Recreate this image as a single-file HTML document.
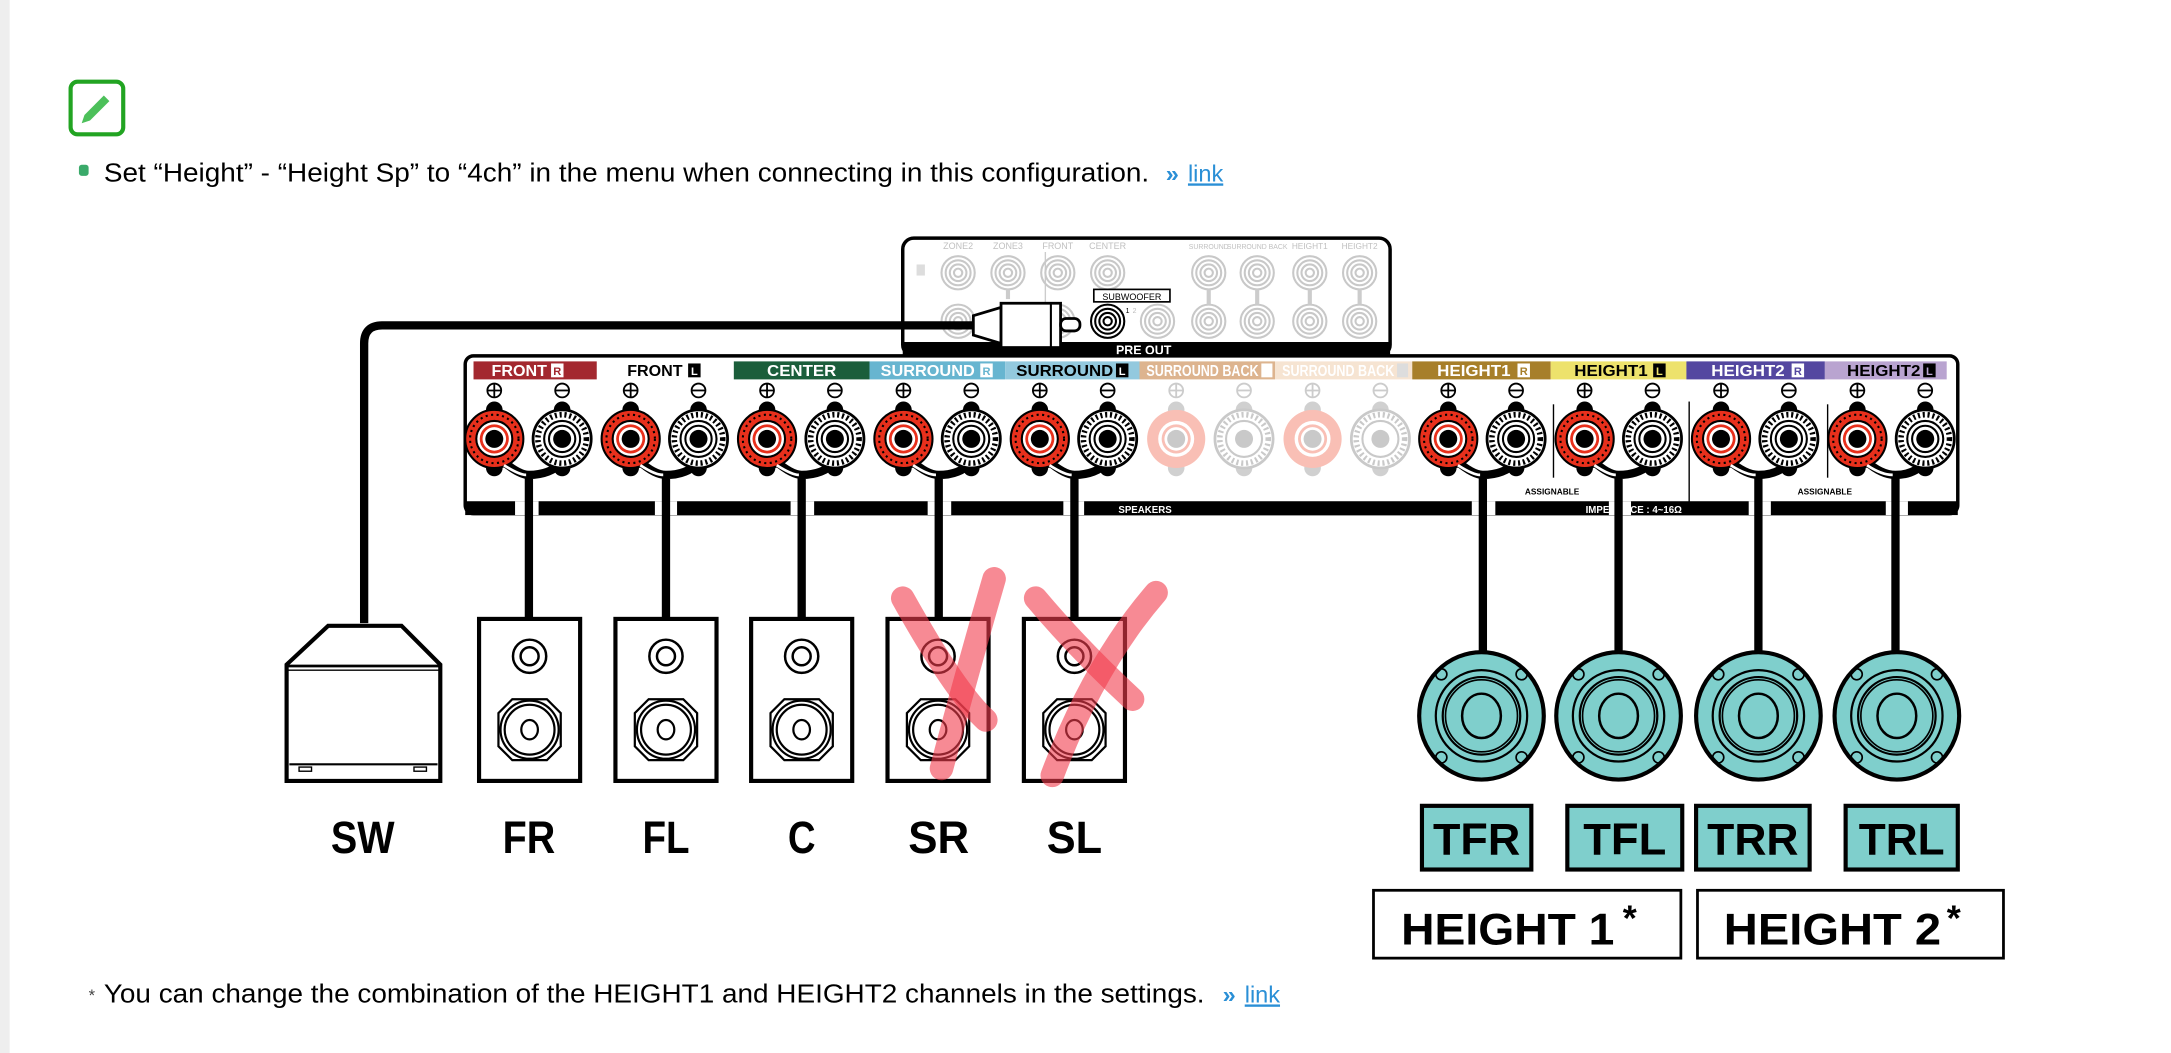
<!DOCTYPE html>
<html><head><meta charset="utf-8"><style>
html,body{margin:0;padding:0;background:#fff;width:2171px;height:1053px;overflow:hidden}
svg{display:block}
</style></head><body>
<svg width="2171" height="1053" viewBox="0 0 1568 760.5" xmlns="http://www.w3.org/2000/svg" font-family="Liberation Sans, sans-serif">
<defs>
<g id="tp">
 <ellipse cx="0" cy="-21" rx="6" ry="6" fill="#000"/>
 <ellipse cx="0" cy="21" rx="6" ry="6" fill="#000"/>
 <circle r="21" fill="#e8301c" stroke="#000" stroke-width="1.5"/>
 <circle r="17.5" fill="none" stroke="#000" stroke-width="1.5" stroke-dasharray="1.5 2.5"/>
 <circle r="13" fill="#fff" stroke="#000" stroke-width="1.5"/>
 <circle r="10.5" fill="#e8301c"/>
 <circle r="8.5" fill="#fff"/>
 <circle r="6.5" fill="#000"/>
</g>
<g id="tm">
 <ellipse cx="0" cy="-21" rx="6" ry="6" fill="#000"/>
 <ellipse cx="0" cy="21" rx="6" ry="6" fill="#000"/>
 <circle r="21" fill="#fff" stroke="#000" stroke-width="2"/>
 <circle r="17.5" fill="none" stroke="#000" stroke-width="4" stroke-dasharray="1.5 2"/>
 <circle r="13" fill="#fff" stroke="#000" stroke-width="1.5"/>
 <circle r="9.5" fill="#fff" stroke="#000" stroke-width="1.5"/>
 <circle r="6.5" fill="#000"/>
</g>
<g id="tpf" opacity="0.45">
 <ellipse cx="0" cy="-21" rx="6" ry="6" fill="#999"/>
 <ellipse cx="0" cy="21" rx="6" ry="6" fill="#999"/>
 <circle r="21" fill="#f2735c"/>
 <circle r="13" fill="#fff"/>
 <circle r="10.5" fill="#f2735c"/>
 <circle r="8.5" fill="#fff"/>
 <circle r="6.5" fill="#888"/>
</g>
<g id="tmf" opacity="0.45">
 <ellipse cx="0" cy="-21" rx="6" ry="6" fill="#999"/>
 <ellipse cx="0" cy="21" rx="6" ry="6" fill="#999"/>
 <circle r="21" fill="#fff" stroke="#888" stroke-width="2"/>
 <circle r="17.5" fill="none" stroke="#888" stroke-width="4" stroke-dasharray="1.5 2"/>
 <circle r="13" fill="#fff" stroke="#888" stroke-width="1.5"/>
 <circle r="6.5" fill="#888"/>
</g>
<g id="jk" fill="none" stroke="#c8c8c8" stroke-width="1.5">
 <circle r="12"/><circle r="9"/><circle r="6"/><circle r="3"/>
</g>
<g id="spk">
 <rect x="0" y="0" width="73" height="117" fill="#fff" stroke="#000" stroke-width="3"/>
 <circle cx="36.5" cy="27" r="12" fill="none" stroke="#000" stroke-width="1.8"/>
 <circle cx="36.5" cy="27" r="6.5" fill="none" stroke="#000" stroke-width="1.8"/>
 <path d="M24 58 L49 58 L59 68 L59 92 L49 102 L24 102 L14 92 L14 68 Z" fill="none" stroke="#000" stroke-width="1.6"/>
 <circle cx="36.5" cy="80" r="21" fill="none" stroke="#000" stroke-width="1.6"/>
 <circle cx="36.5" cy="80" r="18" fill="none" stroke="#000" stroke-width="1.6"/>
 <ellipse cx="36.5" cy="80" rx="6" ry="7" fill="none" stroke="#000" stroke-width="1.6"/>
</g>
<g id="hs">
 <ellipse rx="45" ry="46" fill="#7fcfcc" stroke="#000" stroke-width="3"/>
 <circle r="33" fill="none" stroke="#000" stroke-width="1.6"/>
 <circle r="28" fill="none" stroke="#000" stroke-width="1.6"/>
 <circle r="26" fill="none" stroke="#000" stroke-width="1.2"/>
 <ellipse rx="14" ry="16" fill="none" stroke="#000" stroke-width="1.8"/>
 <circle cx="-29" cy="-30" r="4" fill="none" stroke="#000" stroke-width="1.2"/>
 <circle cx="29" cy="-30" r="4" fill="none" stroke="#000" stroke-width="1.2"/>
 <circle cx="-29" cy="30" r="4" fill="none" stroke="#000" stroke-width="1.2"/>
 <circle cx="29" cy="30" r="4" fill="none" stroke="#000" stroke-width="1.2"/>
</g>
</defs>

<rect x="0" y="0" width="7" height="760.5" fill="#eeeeee"/>

<!-- pencil icon -->
<rect x="51" y="59" width="38" height="38" rx="5" fill="#fff" stroke="#22a422" stroke-width="3"/>
<path d="M59 89 L61 83 L75 69 L79 73 L65 87 Z" fill="#4cc05a"/>
<rect x="57" y="119" width="7" height="8" rx="2" fill="#3aaa6a"/>
<text x="75" y="131" font-size="19" fill="#000" textLength="755" lengthAdjust="spacingAndGlyphs">Set “Height” - “Height Sp” to “4ch” in the menu when connecting in this configuration.</text>
<text x="842" y="131" font-size="17" fill="#2a8fd6" font-weight="bold">»</text>
<text x="858" y="131" font-size="17" fill="#2a8fd6" text-decoration="underline">link</text>

<!-- preout box -->
<rect x="652" y="172" width="352" height="85" rx="8" fill="#fff" stroke="#000" stroke-width="2.5"/>
<rect x="652" y="247" width="352" height="10" fill="#000"/>
<text x="826" y="256" font-size="9" fill="#fff" font-weight="bold" text-anchor="middle">PRE OUT</text>
<g font-size="6.5" fill="#c0c0c0" text-anchor="middle">
<text x="692" y="180">ZONE2</text><text x="728" y="180">ZONE3</text><text x="764" y="180">FRONT</text><text x="800" y="180">CENTER</text>
<text x="873" y="180" font-size="5">SURROUND</text><text x="908" y="180" font-size="5">SURROUND BACK</text><text x="946" y="180" font-size="6">HEIGHT1</text><text x="982" y="180" font-size="6">HEIGHT2</text>
</g>
<rect x="662" y="191" width="6" height="8" fill="#ddd"/>
<line x1="755" y1="182" x2="755" y2="244" stroke="#ccc" stroke-width="1"/>
<use href="#jk" x="692" y="197"/><use href="#jk" x="728" y="197"/><use href="#jk" x="764" y="197"/><use href="#jk" x="800" y="197"/>
<use href="#jk" x="873" y="197"/><use href="#jk" x="908" y="197"/><use href="#jk" x="946" y="197"/><use href="#jk" x="982" y="197"/>
<use href="#jk" x="692" y="232"/><use href="#jk" x="764" y="232"/><use href="#jk" x="836" y="232"/>
<use href="#jk" x="873" y="232"/><use href="#jk" x="908" y="232"/><use href="#jk" x="946" y="232"/><use href="#jk" x="982" y="232"/>
<g stroke="#ccc" stroke-width="3"><line x1="873" y1="209" x2="873" y2="220"/><line x1="908" y1="209" x2="908" y2="220"/><line x1="946" y1="209" x2="946" y2="220"/><line x1="982" y1="209" x2="982" y2="220"/><line x1="728" y1="209" x2="728" y2="216"/></g>
<g fill="none" stroke="#000" stroke-width="1.5"><circle cx="800" cy="232" r="12"/><circle cx="800" cy="232" r="9"/><circle cx="800" cy="232" r="6"/><circle cx="800" cy="232" r="3"/></g>
<rect x="790" y="209" width="55" height="9" fill="#fff" stroke="#000" stroke-width="1.2"/>
<text x="817.5" y="216.5" font-size="6.5" text-anchor="middle" fill="#000">SUBWOOFER</text>
<text x="813" y="226" font-size="5" fill="#000">1</text><text x="818" y="226" font-size="5" fill="#bbb">2</text>

<!-- SW cable -->
<path d="M263 450 L263 248 Q263 235 276 235 L705 235" fill="none" stroke="#000" stroke-width="6"/>
<path d="M703 228 L723 222 L723 248 L703 242 Z" fill="#fff" stroke="#000" stroke-width="2"/>
<rect x="723" y="219" width="43" height="32" fill="#fff" stroke="#000" stroke-width="2"/>
<line x1="759" y1="219" x2="759" y2="251" stroke="#000" stroke-width="1.5"/>
<rect x="766" y="230" width="14" height="9" rx="4" fill="#fff" stroke="#000" stroke-width="2"/>

<!-- receiver -->
<rect x="336" y="257" width="1078" height="114" rx="6" fill="#fff" stroke="#000" stroke-width="2.5"/>
<rect x="336" y="362" width="1078" height="10" fill="#000"/>
<text x="827" y="370.5" font-size="7" fill="#fff" font-weight="bold" text-anchor="middle">SPEAKERS</text>
<text x="1180" y="370.5" font-size="7" fill="#fff" font-weight="bold" text-anchor="middle">IMPEDANCE : 4~16Ω</text>
<g fill="#fff">
<rect x="372" y="362" width="17" height="10"/><rect x="473" y="362" width="16" height="10"/><rect x="571" y="362" width="17" height="10"/>
<rect x="670" y="362" width="17" height="10"/><rect x="768" y="362" width="15" height="10"/>
<rect x="1063" y="362" width="17" height="10"/><rect x="1162" y="362" width="16" height="10"/><rect x="1263" y="362" width="16" height="10"/><rect x="1362" y="362" width="16" height="10"/>
</g>

<!-- labels -->
<g font-size="11" font-weight="bold" lengthAdjust="spacingAndGlyphs">
<rect x="342" y="261" width="89" height="13" fill="#a3282f"/><text x="355" y="271.5" fill="#fff" textLength="40" lengthAdjust="spacingAndGlyphs">FRONT</text><rect x="398" y="262.5" width="9" height="10" fill="#fff"/><text x="402.5" y="271" font-size="8" fill="#a3282f" text-anchor="middle">R</text>
<text x="453" y="271.5" fill="#000" textLength="40" lengthAdjust="spacingAndGlyphs">FRONT</text><rect x="497" y="262.5" width="9" height="10" fill="#000"/><text x="501.5" y="271" font-size="8" fill="#fff" text-anchor="middle">L</text>
<rect x="530" y="261" width="98" height="13" fill="#1b5e3b"/><text x="554" y="271.5" fill="#fff" textLength="50" lengthAdjust="spacingAndGlyphs">CENTER</text>
<rect x="628" y="261" width="98" height="13" fill="#67b5d0"/><text x="636" y="271.5" fill="#fff" textLength="68" lengthAdjust="spacingAndGlyphs">SURROUND</text><rect x="708" y="262.5" width="9" height="10" fill="#fff"/><text x="712.5" y="271" font-size="8" fill="#67b5d0" text-anchor="middle">R</text>
<rect x="726" y="261" width="97" height="13" fill="#93c9de"/><text x="734" y="271.5" fill="#000" textLength="70" lengthAdjust="spacingAndGlyphs">SURROUND</text><rect x="806" y="262.5" width="9" height="10" fill="#000"/><text x="810.5" y="271" font-size="8" fill="#fff" text-anchor="middle">L</text>
<rect x="823" y="261" width="98" height="13" fill="#ddb48f"/><text x="828" y="271.5" fill="#fff" textLength="81" lengthAdjust="spacingAndGlyphs">SURROUND BACK</text><rect x="911" y="262.5" width="8" height="10" fill="#fff"/>
<rect x="921" y="261" width="99" height="13" fill="#f6e4d2"/><text x="926" y="271.5" fill="#fff" textLength="81" lengthAdjust="spacingAndGlyphs">SURROUND BACK</text><rect x="1009" y="262.5" width="8" height="10" fill="#ddd"/>
<rect x="1020" y="261" width="100" height="13" fill="#a77f2a"/><text x="1038" y="271.5" fill="#fff" textLength="53" lengthAdjust="spacingAndGlyphs">HEIGHT1</text><rect x="1096" y="262.5" width="9" height="10" fill="#fff"/><text x="1100.5" y="271" font-size="8" fill="#a77f2a" text-anchor="middle">R</text>
<rect x="1120" y="261" width="98" height="13" fill="#ede26c"/><text x="1137" y="271.5" fill="#000" textLength="53" lengthAdjust="spacingAndGlyphs">HEIGHT1</text><rect x="1194" y="262.5" width="9" height="10" fill="#000"/><text x="1198.5" y="271" font-size="8" fill="#ede26c" text-anchor="middle">L</text>
<rect x="1218" y="261" width="100" height="13" fill="#5447a0"/><text x="1236" y="271.5" fill="#fff" textLength="53" lengthAdjust="spacingAndGlyphs">HEIGHT2</text><rect x="1294" y="262.5" width="9" height="10" fill="#fff"/><text x="1298.5" y="271" font-size="8" fill="#5447a0" text-anchor="middle">R</text>
<rect x="1318" y="261" width="88" height="13" fill="#b9a4d0"/><text x="1334" y="271.5" fill="#000" textLength="53" lengthAdjust="spacingAndGlyphs">HEIGHT2</text><rect x="1389" y="262.5" width="9" height="10" fill="#000"/><text x="1393.5" y="271" font-size="8" fill="#b9a4d0" text-anchor="middle">L</text>
</g>

<g stroke="#000" fill="none" stroke-width="1.3">
<circle cx="357" cy="282" r="5"/><path d="M352 282h10M357 277v10"/><circle cx="406" cy="282" r="5"/><path d="M401 282h10"/>
<circle cx="455.5" cy="282" r="5"/><path d="M450.5 282h10M455.5 277v10"/><circle cx="504.5" cy="282" r="5"/><path d="M499.5 282h10"/>
<circle cx="554" cy="282" r="5"/><path d="M549 282h10M554 277v10"/><circle cx="603" cy="282" r="5"/><path d="M598 282h10"/>
<circle cx="652.5" cy="282" r="5"/><path d="M647.5 282h10M652.5 277v10"/><circle cx="701.5" cy="282" r="5"/><path d="M696.5 282h10"/>
<circle cx="751" cy="282" r="5"/><path d="M746 282h10M751 277v10"/><circle cx="800" cy="282" r="5"/><path d="M795 282h10"/>
<circle cx="1046" cy="282" r="5"/><path d="M1041 282h10M1046 277v10"/><circle cx="1095" cy="282" r="5"/><path d="M1090 282h10"/>
<circle cx="1144.5" cy="282" r="5"/><path d="M1139.5 282h10M1144.5 277v10"/><circle cx="1193.5" cy="282" r="5"/><path d="M1188.5 282h10"/>
<circle cx="1243" cy="282" r="5"/><path d="M1238 282h10M1243 277v10"/><circle cx="1292" cy="282" r="5"/><path d="M1287 282h10"/>
<circle cx="1341.5" cy="282" r="5"/><path d="M1336.5 282h10M1341.5 277v10"/><circle cx="1390.5" cy="282" r="5"/><path d="M1385.5 282h10"/>
</g>
<g stroke="#ccc" fill="none" stroke-width="1.3">
<circle cx="849.5" cy="282" r="5"/><path d="M844.5 282h10M849.5 277v10"/><circle cx="898.5" cy="282" r="5"/><path d="M893.5 282h10"/>
<circle cx="948" cy="282" r="5"/><path d="M943 282h10M948 277v10"/><circle cx="997" cy="282" r="5"/><path d="M992 282h10"/>
</g>

<g fill="none" stroke="#000" stroke-width="6">
<path d="M363 333 Q375 343 382 343 M406 334 Q397 343 382 343 L382 447"/>
<path d="M461.5 333 Q473 343 481 343 M504.5 334 Q496 343 481 343 L481 447"/>
<path d="M560 333 Q572 343 579 343 M603 334 Q594 343 579 343 L579 447"/>
<path d="M658.5 333 Q670 343 678 343 M701.5 334 Q693 343 678 343 L678 447"/>
<path d="M757 333 Q769 343 776 343 M800 334 Q791 343 776 343 L776 447"/>
<path d="M1052 333 Q1064 343 1071 343 M1095 334 Q1086 343 1071 343 L1071 472"/>
<path d="M1150.5 333 Q1162 343 1169 343 M1193.5 334 Q1184 343 1169 343 L1169 472"/>
<path d="M1249 333 Q1261 343 1270 343 M1292 334 Q1284 343 1270 343 L1270 472"/>
<path d="M1347.5 333 Q1359 343 1369 343 M1390.5 334 Q1382 343 1369 343 L1369 472"/>
</g>

<use href="#tp" x="357" y="317"/><use href="#tm" x="406" y="317"/>
<use href="#tp" x="455.5" y="317"/><use href="#tm" x="504.5" y="317"/>
<use href="#tp" x="554" y="317"/><use href="#tm" x="603" y="317"/>
<use href="#tp" x="652.5" y="317"/><use href="#tm" x="701.5" y="317"/>
<use href="#tp" x="751" y="317"/><use href="#tm" x="800" y="317"/>
<use href="#tpf" x="849.5" y="317"/><use href="#tmf" x="898.5" y="317"/>
<use href="#tpf" x="948" y="317"/><use href="#tmf" x="997" y="317"/>
<use href="#tp" x="1046" y="317"/><use href="#tm" x="1095" y="317"/>
<use href="#tp" x="1144.5" y="317"/><use href="#tm" x="1193.5" y="317"/>
<use href="#tp" x="1243" y="317"/><use href="#tm" x="1292" y="317"/>
<use href="#tp" x="1341.5" y="317"/><use href="#tm" x="1390.5" y="317"/>

<g fill="none" stroke="#fff" stroke-width="2">
<path d="M364 336 Q375 343 380 343"/><path d="M462.5 336 Q473 343 479 343"/><path d="M561 336 Q572 343 577 343"/><path d="M659.5 336 Q670 343 676 343"/><path d="M758 336 Q769 343 774 343"/>
<path d="M1053 336 Q1064 343 1069 343"/><path d="M1151.5 336 Q1162 343 1167 343"/><path d="M1250 336 Q1261 343 1268 343"/><path d="M1348.5 336 Q1359 343 1367 343"/>
</g>

<g stroke="#000" stroke-width="1"><line x1="1122" y1="292" x2="1122" y2="345"/><line x1="1220" y1="290" x2="1220" y2="368"/><line x1="1320" y1="292" x2="1320" y2="345"/></g>
<g font-size="6" font-weight="bold" text-anchor="middle"><text x="1121" y="357">ASSIGNABLE</text><text x="1318" y="357">ASSIGNABLE</text></g>

<!-- SW -->
<path d="M237 452 L290 452 L318 480 L318 564 L207 564 L207 480 Z" fill="#fff" stroke="#000" stroke-width="3"/>
<line x1="207" y1="481" x2="318" y2="481" stroke="#000" stroke-width="2"/>
<line x1="207" y1="484" x2="318" y2="484" stroke="#000" stroke-width="1"/>
<line x1="209" y1="552" x2="316" y2="552" stroke="#000" stroke-width="1.5"/>
<rect x="216" y="554" width="9" height="3" fill="none" stroke="#000" stroke-width="1"/>
<rect x="299" y="554" width="9" height="3" fill="none" stroke="#000" stroke-width="1"/>

<use href="#spk" x="346" y="447"/>
<use href="#spk" x="444.5" y="447"/>
<use href="#spk" x="542.5" y="447"/>
<use href="#spk" x="641" y="447"/>
<use href="#spk" x="739.5" y="447"/>

<g stroke="#f23c4c" stroke-opacity="0.6" stroke-width="17" stroke-linecap="round" fill="none">
<path d="M652 432 Q690 500 712 520"/><path d="M718 418 Q700 480 680 555"/>
<path d="M748 432 Q780 470 818 505"/><path d="M835 428 Q790 480 760 560"/>
</g>

<use href="#hs" x="1070" y="517"/>
<use href="#hs" x="1169" y="517"/>
<use href="#hs" x="1270" y="517"/>
<use href="#hs" x="1370" y="517"/>

<g fill="#7fcfcc" stroke="#000" stroke-width="3">
<rect x="1027" y="582" width="79" height="46"/>
<rect x="1132" y="582" width="83" height="46"/>
<rect x="1225" y="582" width="82" height="46"/>
<rect x="1333" y="582" width="81" height="46"/>
</g>
<g font-size="32" font-weight="bold" text-anchor="middle" fill="#000">
<text x="1066.5" y="617" textLength="63" lengthAdjust="spacingAndGlyphs">TFR</text>
<text x="1173.5" y="617" textLength="60" lengthAdjust="spacingAndGlyphs">TFL</text>
<text x="1266" y="617" textLength="66" lengthAdjust="spacingAndGlyphs">TRR</text>
<text x="1373.5" y="617" textLength="62" lengthAdjust="spacingAndGlyphs">TRL</text>
</g>
<g fill="#fff" stroke="#000" stroke-width="2">
<rect x="992" y="643" width="222" height="49"/>
<rect x="1226" y="643" width="221" height="49"/>
</g>
<g font-size="32" font-weight="bold" fill="#000">
<text x="1012" y="682" textLength="154" lengthAdjust="spacingAndGlyphs">HEIGHT 1</text><text x="1172" y="672" font-size="26">*</text>
<text x="1245" y="682" textLength="157" lengthAdjust="spacingAndGlyphs">HEIGHT 2</text><text x="1406" y="672" font-size="26">*</text>
</g>

<g font-size="33" font-weight="bold" text-anchor="middle" fill="#000">
<text x="262" y="616" textLength="46" lengthAdjust="spacingAndGlyphs">SW</text>
<text x="382" y="616" textLength="38" lengthAdjust="spacingAndGlyphs">FR</text>
<text x="481" y="616" textLength="34" lengthAdjust="spacingAndGlyphs">FL</text>
<text x="579" y="616" textLength="20" lengthAdjust="spacingAndGlyphs">C</text>
<text x="678" y="616" textLength="44" lengthAdjust="spacingAndGlyphs">SR</text>
<text x="776" y="616" textLength="40" lengthAdjust="spacingAndGlyphs">SL</text>
</g>

<text x="64" y="723" font-size="12" fill="#444">*</text>
<text x="75" y="724" font-size="19" fill="#000" textLength="795" lengthAdjust="spacingAndGlyphs">You can change the combination of the HEIGHT1 and HEIGHT2 channels in the settings.</text>
<text x="883" y="724" font-size="17" fill="#2a8fd6" font-weight="bold">»</text>
<text x="899" y="724" font-size="17" fill="#2a8fd6" text-decoration="underline">link</text>
</svg>
</body></html>
